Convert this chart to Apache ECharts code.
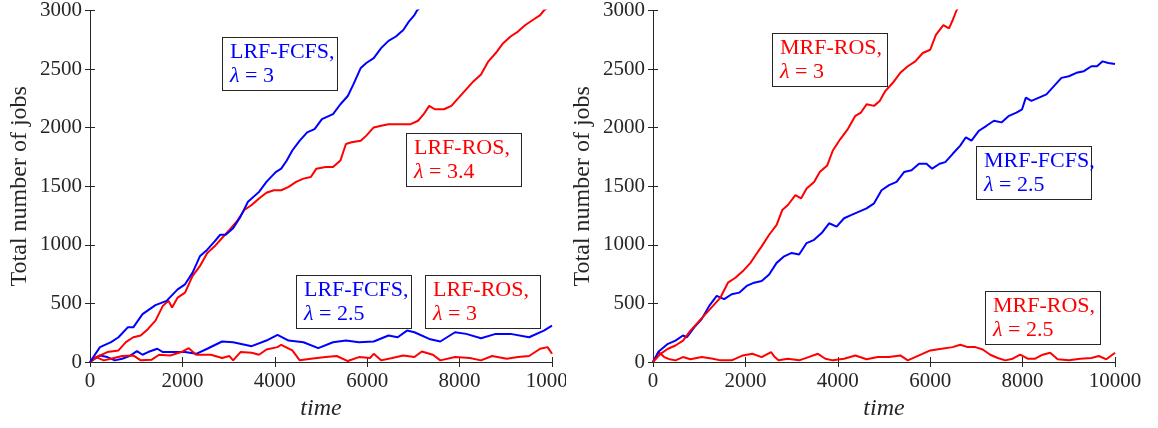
<!DOCTYPE html>
<html>
<head>
<meta charset="utf-8">
<script src="https://cdn.jsdelivr.net/npm/echarts@6/dist/echarts.min.js"></script>
<style>
html,body{margin:0;padding:0;background:#fff;}
#chart{width:1158px;height:428px;}
</style>
</head>
<body>
<div id="chart"></div>
<script>
// ---------- data (time, total number of jobs) ----------
const xTicks = [0, 2000, 4000, 6000, 8000, 10000];
const yTicks = [0, 500, 1000, 1500, 2000, 2500, 3000];

// Left panel
const lrfFcfs3 = [[0,0],[216,127],[456,169],[617,211],[817,296],[937,296],[1137,409],[1417,485],[1657,522],[1897,620],[2057,663],[2218,761],[2378,902],[2538,959],[2698,1029],[2818,1086],[2938,1086],[3098,1142],[3258,1241],[3419,1368],[3659,1452],[3819,1537],[4019,1621],[4139,1650],[4259,1720],[4379,1805],[4540,1889],[4700,1960],[4860,1988],[5020,2073],[5260,2115],[5420,2200],[5580,2270],[5701,2369],[5861,2510],[5981,2552],[6141,2594],[6301,2679],[6461,2741],[6621,2778],[6781,2834],[6901,2905],[7022,2961],[7078,3000],[7250,3060]];
const lrfRos34 = [[0,0],[136,42],[376,85],[617,99],[777,169],[937,211],[1097,226],[1257,282],[1417,353],[1577,479],[1697,522],[1777,465],[1897,550],[2057,592],[2218,733],[2378,818],[2538,931],[2698,987],[2858,1058],[3018,1128],[3178,1199],[3339,1297],[3499,1340],[3659,1396],[3819,1444],[3979,1466],[4139,1466],[4299,1495],[4460,1537],[4620,1565],[4780,1579],[4900,1650],[5100,1664],[5260,1664],[5420,1720],[5540,1861],[5661,1875],[5861,1889],[5981,1932],[6141,2002],[6301,2016],[6461,2030],[6621,2030],[6781,2030],[6941,2030],[7102,2059],[7222,2115],[7342,2186],[7462,2157],[7662,2157],[7822,2186],[7982,2256],[8142,2327],[8303,2397],[8463,2454],[8623,2566],[8783,2637],[8943,2721],[9103,2778],[9263,2820],[9423,2876],[9584,2919],[9744,2961],[9824,3000],[9960,3040]];
const lrfFcfs25 = [[0,0],[216,56],[376,42],[536,14],[697,28],[857,51],[1017,93],[1137,62],[1257,85],[1457,113],[1577,85],[1817,85],[2057,85],[2298,70],[2538,113],[2858,175],[3098,169],[3499,135],[3819,183],[4059,231],[4299,183],[4620,169],[4940,118],[5260,169],[5540,183],[5821,169],[6141,175],[6461,226],[6661,211],[6861,268],[7022,254],[7342,197],[7582,175],[7902,254],[8142,240],[8463,203],[8783,240],[9103,240],[9504,211],[9824,268],[10000,310]];
const lrfRos3 = [[0,0],[136,42],[296,14],[456,28],[697,51],[937,56],[1097,14],[1337,20],[1497,62],[1737,56],[1977,85],[2138,118],[2298,62],[2618,62],[2858,34],[3018,51],[3098,14],[3258,85],[3499,79],[3659,62],[3819,107],[4059,127],[4139,147],[4379,99],[4540,14],[4780,28],[5100,42],[5340,51],[5580,8],[5821,42],[6061,34],[6141,70],[6301,14],[6541,34],[6781,56],[7022,42],[7182,90],[7422,62],[7582,14],[7902,42],[8222,34],[8463,14],[8703,51],[9023,28],[9263,42],[9504,51],[9744,113],[9904,127],[10000,70]];

// Right panel
const mrfRos3 = [[0,0],[162,70],[324,113],[487,141],[649,183],[811,268],[973,338],[1135,409],[1298,479],[1460,550],[1622,677],[1784,719],[1946,776],[2109,846],[2230,917],[2352,987],[2514,1086],[2676,1170],[2798,1297],[2920,1340],[3082,1424],[3204,1396],[3325,1480],[3487,1537],[3609,1621],[3771,1678],[3893,1805],[4055,1903],[4217,1988],[4380,2101],[4501,2129],[4623,2200],[4785,2186],[4907,2228],[5028,2312],[5191,2383],[5353,2468],[5515,2524],[5677,2566],[5839,2637],[6001,2665],[6123,2792],[6285,2876],[6407,2848],[6488,2919],[6569,3000],[6700,3080]];
const mrfFcfs25 = [[0,0],[122,90],[324,155],[487,183],[649,226],[730,211],[892,296],[1054,367],[1217,479],[1379,564],[1541,536],[1703,578],[1865,592],[2028,649],[2190,677],[2352,691],[2514,747],[2676,846],[2839,902],[3001,931],[3163,917],[3325,1015],[3487,1043],[3650,1100],[3812,1184],[3974,1156],[4136,1227],[4298,1255],[4461,1283],[4623,1311],[4785,1354],[4947,1466],[5109,1509],[5272,1537],[5434,1621],[5596,1636],[5758,1692],[5920,1692],[6042,1650],[6204,1692],[6326,1706],[6488,1777],[6650,1847],[6772,1918],[6894,1889],[7056,1974],[7218,2016],[7380,2059],[7543,2045],[7705,2101],[7867,2129],[7989,2157],[8070,2256],[8191,2228],[8354,2256],[8516,2284],[8678,2355],[8840,2425],[9002,2439],[9165,2468],[9327,2482],[9489,2524],[9611,2524],[9732,2566],[9854,2552],[10000,2544]];
const mrfRos25 = [[0,0],[122,85],[243,42],[365,23],[487,14],[649,42],[811,23],[1054,42],[1298,28],[1460,14],[1703,14],[1946,56],[2149,70],[2352,42],[2555,85],[2636,42],[2717,14],[2920,28],[3163,14],[3366,42],[3569,70],[3731,28],[3893,14],[4136,28],[4380,56],[4623,23],[4866,42],[5109,42],[5353,56],[5515,14],[5758,56],[6001,99],[6245,113],[6488,127],[6650,147],[6813,127],[6975,127],[7137,107],[7299,62],[7462,34],[7624,14],[7786,28],[7948,62],[8110,28],[8272,28],[8435,62],[8597,79],[8759,23],[9002,14],[9246,28],[9489,34],[9651,51],[9813,23],[10000,79]];

// annotation texts
const leftNotes = [
  {name: 'LRF-FCFS,', lam: '3', color: 'blue'},
  {name: 'LRF-ROS,', lam: '3.4', color: 'red'},
  {name: 'LRF-FCFS,', lam: '2.5', color: 'blue'},
  {name: 'LRF-ROS,', lam: '3', color: 'red'}
];
const rightNotes = [
  {name: 'MRF-ROS,', lam: '3', color: 'red'},
  {name: 'MRF-FCFS,', lam: '2.5', color: 'blue'},
  {name: 'MRF-ROS,', lam: '2.5', color: 'red'}
];
const yTitle = 'Total number of jobs';
const xTitle = 'time';

// ---------- chart ----------
const FONT = "'Liberation Serif', 'DejaVu Serif', serif";
const AX = '#262626';
const BLUE = '#0000ff';
const RED = '#ff0000';
const colorOf = c => (c === 'blue' ? BLUE : RED);

const chart = echarts.init(document.getElementById('chart'), null, {renderer: 'canvas'});

const grids = [
  {left: 90, top: 9, width: 462, height: 353},
  {left: 653, top: 9, width: 462, height: 353}
];

function xAx(gi, pos) {
  const main = pos === 'bottom';
  return {
    type: 'value', gridIndex: gi, position: pos, min: xTicks[0], max: xTicks[xTicks.length - 1],
    interval: xTicks[1] - xTicks[0],
    name: main ? xTitle : '', nameLocation: 'middle', nameGap: 34,
    nameTextStyle: {fontFamily: FONT, fontSize: 24, fontStyle: 'italic', color: AX},
    axisLine: {show: true, lineStyle: {color: AX, width: 1}},
    axisTick: {show: true, inside: true, length: 5, lineStyle: {color: AX}},
    axisLabel: {show: main, fontFamily: FONT, fontSize: 21, color: AX, margin: 9, formatter: v => String(v)},
    splitLine: {show: false}
  };
}
function yAx(gi, pos) {
  const main = pos === 'left';
  return {
    type: 'value', gridIndex: gi, position: pos, min: yTicks[0], max: yTicks[yTicks.length - 1],
    interval: yTicks[1] - yTicks[0],
    name: main ? yTitle : '', nameLocation: 'middle', nameGap: 58,
    nameTextStyle: {fontFamily: FONT, fontSize: 24, color: AX},
    axisLine: {show: true, lineStyle: {color: AX, width: 1}},
    axisTick: {show: true, inside: true, length: 5, lineStyle: {color: AX}},
    axisLabel: {show: main, fontFamily: FONT, fontSize: 21, color: AX, margin: 8, formatter: v => String(v)},
    splitLine: {show: false}
  };
}

function line(data, color, xi, yi) {
  return {
    type: 'line', data: data, xAxisIndex: xi, yAxisIndex: yi,
    showSymbol: false, symbol: 'none', clip: true, smooth: false,
    lineStyle: {color: color, width: 2}, itemStyle: {color: color},
    animation: false
  };
}

// annotation boxes
const boxPos = [
  [222, 37], [406, 133], [296, 275], [425, 275],
  [772, 33], [976, 146], [985, 291]
];
function note(n, p) {
  const c = colorOf(n.color);
  return {
    type: 'text', left: p[0], top: p[1], z: 100,
    style: {
      text: '{t|' + n.name + '}\n{i|λ}{t| = ' + n.lam + '}',
      width: 100,
      padding: [2, 7, 2, 7],
      backgroundColor: '#fff',
      borderColor: AX, borderWidth: 1,
      rich: {
        t: {fontFamily: FONT, fontSize: 22, fill: c, lineHeight: 24},
        i: {fontFamily: FONT, fontSize: 22, fontStyle: 'italic', fill: c, lineHeight: 24}
      }
    }
  };
}
const notes = leftNotes.concat(rightNotes);
const graphics = notes.map((n, i) => note(n, boxPos[i]));
// the left panel's last tick label is cut by the figure edge in the reference
graphics.push({type: 'rect', shape: {x: 566, y: 366, width: 16, height: 30}, style: {fill: '#fff'}, z: 100});

chart.setOption({
  animation: false,
  backgroundColor: '#fff',
  grid: grids,
  xAxis: [xAx(0, 'bottom'), xAx(0, 'top'), xAx(1, 'bottom'), xAx(1, 'top')],
  yAxis: [yAx(0, 'left'), yAx(0, 'right'), yAx(1, 'left'), yAx(1, 'right')],
  series: [
    line(lrfFcfs25, BLUE, 0, 0),
    line(lrfRos3, RED, 0, 0),
    line(lrfRos34, RED, 0, 0),
    line(lrfFcfs3, BLUE, 0, 0),
    line(mrfRos25, RED, 2, 2),
    line(mrfFcfs25, BLUE, 2, 2),
    line(mrfRos3, RED, 2, 2)
  ],
  graphic: graphics
});
</script>
</body>
</html>
